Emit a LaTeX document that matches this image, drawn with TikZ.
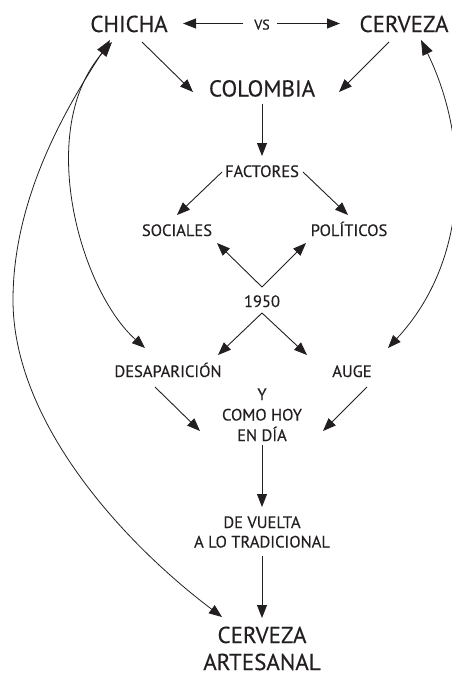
\documentclass[tikz,border=0pt]{standalone}
\usepackage{fontspec}
\setmainfont{PT Sans}[FakeBold=0.35]
\usetikzlibrary{arrows.meta,calc}
\definecolor{ink}{HTML}{231F20}
\begin{document}
\begin{tikzpicture}[x=1pt,y=-1pt,
  txt/.style={inner sep=0pt,anchor=base,text=ink},
  big/.style={txt,font=\fontsize{23}{26}\selectfont},
  med/.style={txt,font=\fontsize{16.5}{19}\selectfont},
  sml/.style={txt,font=\fontsize{14}{16}\selectfont},
  arr/.style={draw=ink,line width=0.9pt,-{Triangle[length=13pt,width=10pt]}},
  darr/.style={draw=ink,line width=0.8pt,{Triangle[length=15pt,width=11pt]}-{Triangle[length=13pt,width=10pt]}}]
\useasboundingbox (0,0) rectangle (451,675);
\node[big] (chicha) at (129,32) {CHICHA};
\node[sml] (vs) at (262,29.5) {VS};
\node[big] (cerveza) at (404,32) {CERVEZA};
\node[big] (colombia) at (262,96.5) {COLOMBIA};
\node[med] (factores) at (262,177) {FACTORES};
\node[med] (sociales) at (177,236) {SOCIALES};
\node[med] (politicos) at (349,236) {POLÍTICOS};
\node[med] (y1950) at (262,307) {1950};
\node[med] (desap) at (168,377) {DESAPARICIÓN};
\node[med] (auge) at (352,377) {AUGE};
\node[med] (yy) at (262,400) {Y};
\node[med] (comohoy) at (262,420.5) {COMO HOY};
\node[med] (endia) at (262,441) {EN DÍA};
\node[med] (devuelta) at (262,528) {DE VUELTA};
\node[med] (alotrad) at (262,547.5) {A LO TRADICIONAL};
\node[big] (cerv2) at (262,643) {CERVEZA};
\node[big] (artes) at (262,670) {ARTESANAL};
% vs arrows
\draw[arr] ($(vs.base)+(-19,-6)$) -- ($(chicha.base)+(54,-8.5)$);
\draw[arr] ($(vs.base)+(15,-6)$) -- ($(cerveza.base)+(-64,-8.5)$);
% to colombia
\draw[arr] ($(chicha.base)+(13,10)$) -- ($(colombia.base)+(-69,-4.5)$);
\draw[arr] ($(cerveza.base)+(-15,10)$) -- ($(colombia.base)+(77,-4.5)$);
\draw[arr] ($(colombia.base)+(0,7)$) -- ($(factores.base)+(0,-21)$);
% factores
\draw[arr] ($(factores.base)+(-40,-5)$) -- ($(sociales.base)+(0,-21)$);
\draw[arr] ($(factores.base)+(41,-5)$) -- ($(politicos.base)+(-1,-21)$);
% 1950 up
\draw[arr] ($(y1950.base)+(0,-20)$) -- ($(sociales.base)+(40,7)$);
\draw[arr] ($(y1950.base)+(0,-20)$) -- ($(politicos.base)+(-43,7)$);
% 1950 down
\draw[arr] ($(y1950.base)+(0,6)$) -- ($(desap.base)+(50,-22)$);
\draw[arr] ($(y1950.base)+(0,6)$) -- ($(auge.base)+(-45,-22)$);
% to como hoy
\draw[arr] ($(desap.base)+(-13,10)$) -- ($(comohoy.base)+(-62,10.5)$);
\draw[arr] ($(auge.base)+(15,10)$) -- ($(comohoy.base)+(61,10.5)$);
\draw[arr] ($(endia.base)+(0,4)$) -- ($(devuelta.base)+(0,-21)$);
\draw[arr] ($(alotrad.base)+(0,8.5)$) -- ($(cerv2.base)+(0,-25)$);
% curves
\draw[darr] ($(chicha.base)+(-19,8)$) .. controls (75,95) and (13,190) .. (13,300)
  .. controls (13,420) and (120,540) .. ($(cerv2.base)+(-40,-26)$);
\draw[darr] ($(chicha.base)+(-17,10)$) .. controls (35,130) and (80,290) .. ($(desap.base)+(-23,-29)$);
\draw[darr] ($(cerveza.base)+(17,8)$) .. controls (470,140) and (470,260) .. ($(auge.base)+(36,-29)$);
\end{tikzpicture}
\end{document}
